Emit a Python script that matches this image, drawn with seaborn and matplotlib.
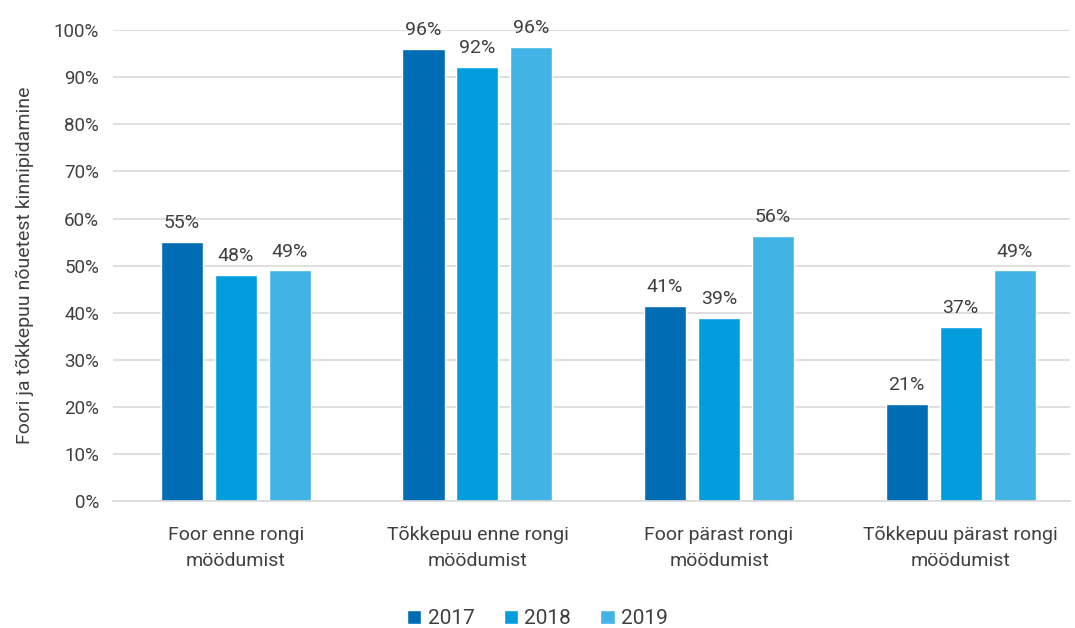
import matplotlib
matplotlib.use("Agg")
import matplotlib.pyplot as plt
import seaborn as sns
import pandas as pd
from matplotlib.ticker import FuncFormatter

categories = ["Foor enne rongi\nmöödumist", "Tõkkepuu enne rongi\nmöödumist",
              "Foor pärast rongi\nmöödumist", "Tõkkepuu pärast rongi\nmöödumist"]
years = ["2017", "2018", "2019"]
v2017 = [55.0, 96.0, 41.4, 20.6]
v2018 = [48.0, 92.2, 38.9, 37.0]
v2019 = [49.0, 96.4, 56.3, 49.0]
colors = ["#006CB4", "#039DDD", "#42B3E5"]

rows = []
for y, vals in zip(years, [v2017, v2018, v2019]):
    for c, v in zip(categories, vals):
        rows.append({"cat": c, "year": y, "val": v})
df = pd.DataFrame(rows)

sns.set_theme(style="white")
plt.rcParams["font.family"] = ["Roboto", "DejaVu Sans"]
txt = "#404040"

fig, ax = plt.subplots(figsize=(10.75, 6.28), dpi=100)
fig.subplots_adjust(left=0.105, right=0.995, top=0.952, bottom=0.202)

sns.barplot(data=df, x="cat", y="val", hue="year", palette=colors,
            width=0.67, gap=0.22, ax=ax, saturation=1, legend=True)

for cont in ax.containers:
    ax.bar_label(cont, labels=[f"{round(b.get_height()):.0f}%" for b in cont],
                 padding=7, fontsize=14, color=txt)

ax.set_xlim(-0.509, 3.451)
ax.set_ylim(0, 100)
ax.set_yticks(range(0, 101, 10))
ax.yaxis.set_major_formatter(FuncFormatter(lambda v, p: f"{v:.0f}%"))
ax.grid(axis="y", color="#d9d9d9", linewidth=1.2)
ax.set_axisbelow(True)
for s in ["top", "right", "left"]:
    ax.spines[s].set_visible(False)
ax.spines["bottom"].set_color("#d9d9d9")
ax.spines["bottom"].set_linewidth(1.2)
ax.tick_params(axis="y", length=0, labelsize=13.5, colors=txt, pad=10)
ax.tick_params(axis="x", length=0, labelsize=14, colors=txt, pad=18)
for t in ax.get_xticklabels():
    t.set_linespacing(1.55)
ax.set_xlabel("")
ax.set_ylabel("Foori ja tõkkepuu nõuetest kinnipidamine", fontsize=14, color=txt, labelpad=14)

ax.legend_.remove()
handles, labels = ax.get_legend_handles_labels()
fig.legend(handles, labels, loc="lower center", ncol=3, frameon=False,
           bbox_to_anchor=(0.5, -0.03), fontsize=15, handlelength=0.7, handleheight=0.7,
           handletextpad=0.3, columnspacing=1.4, labelcolor=txt)

fig.savefig("out.png", dpi=100)
